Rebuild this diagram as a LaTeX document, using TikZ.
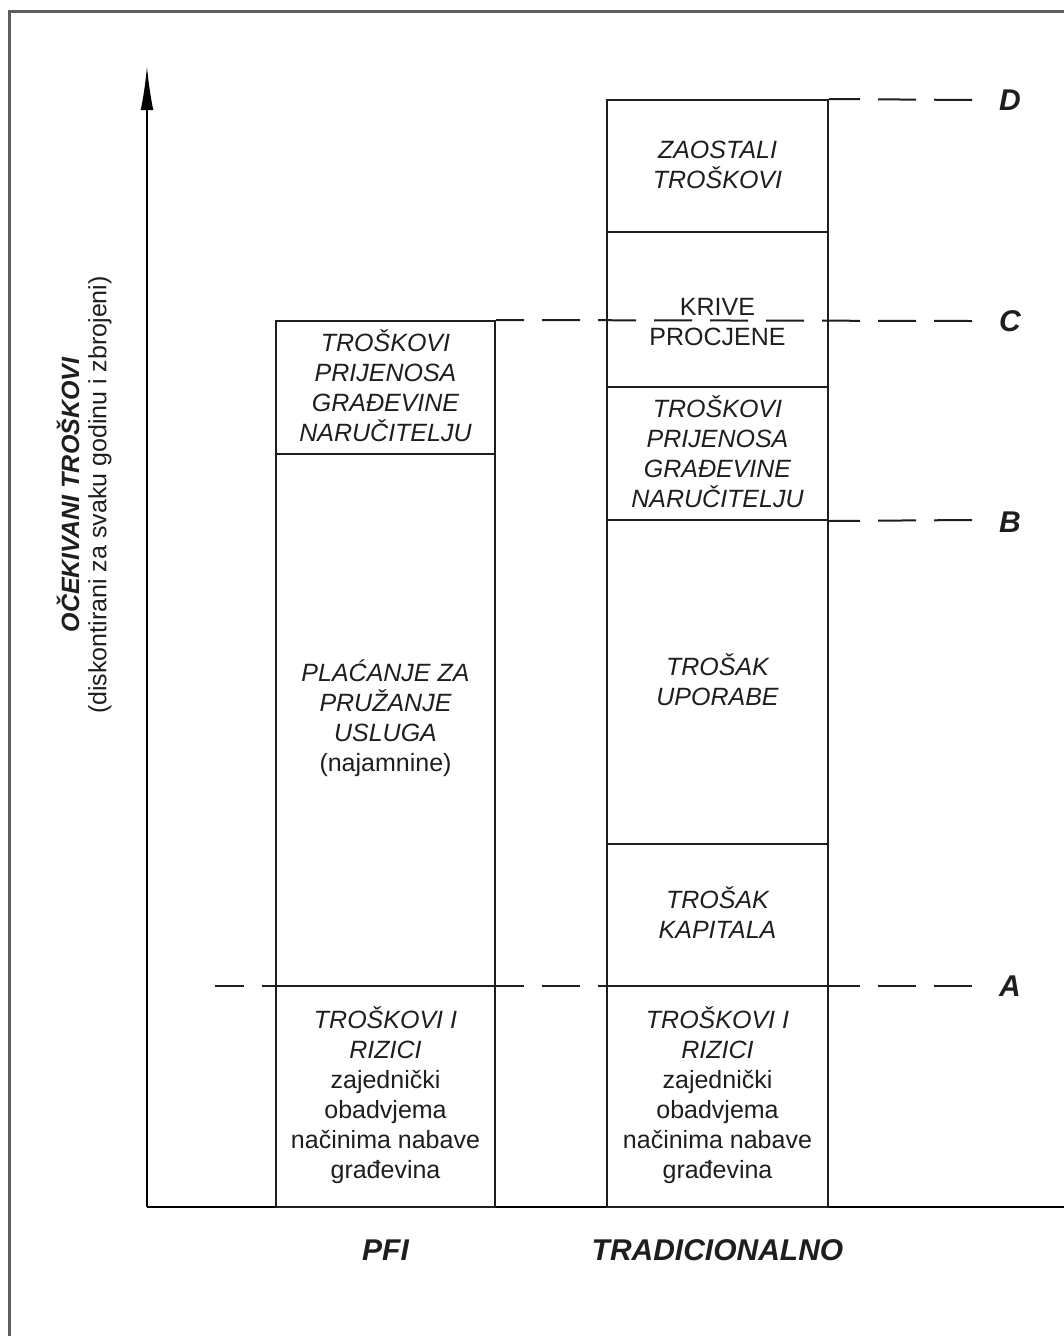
\documentclass[tikz,border=0pt]{standalone}
\usepackage{fontspec}
\setmainfont{Liberation Sans}
\usetikzlibrary{arrows.meta}
\definecolor{ink}{HTML}{1E1E1E}
\definecolor{framec}{HTML}{5E5E5E}
\tikzset{
  bar/.style={draw=ink, line width=1.5pt, inner sep=0pt},
  txt/.style={align=center, inner sep=0pt, text=ink, font=\fontsize{18.75}{22.5}\selectfont},
  lbl/.style={inner sep=0pt, text=ink, font=\fontsize{22.5}{27}\selectfont\bfseries\itshape},
  guide/.style={draw=ink, line width=1.5pt, dash pattern=on 28.5pt off 13.5pt},
  axis/.style={draw=black, line width=1.5pt}
}
\begin{document}
\begin{tikzpicture}[x=0.75pt,y=-0.75pt]
\useasboundingbox (0,0) rectangle (1064,1336);
% frame
\draw[framec, line width=2.4pt] (9.5,1340) -- (9.5,11.5) -- (1070,11.5);

% axes
\coordinate (origin) at (147,1207);
\coordinate (ytop) at (147,66);
\coordinate (xend) at (1070,1207);
\draw[axis, -{Latex[length=33pt,width=9.5pt]}] (origin) -- (ytop);
\draw[axis] (origin) -- (xend);

% PFI column
\node[bar, minimum width=164.25pt, minimum height=99.75pt] (p1) at (385.5,387.5) {};
\node[bar, minimum width=164.25pt, minimum height=399pt] (p2) at (385.5,720) {};
\node[bar, minimum width=164.25pt, minimum height=165.75pt] (p3) at (385.5,1096.5) {};

% Traditional column
\node[bar, minimum width=165.75pt, minimum height=99pt] (t1) at (717.5,166) {};
\node[bar, minimum width=165.75pt, minimum height=116.25pt] (t2) at (717.5,309.5) {};
\node[bar, minimum width=165.75pt, minimum height=99.75pt] (t3) at (717.5,453.5) {};
\node[bar, minimum width=165.75pt, minimum height=243pt] (t4) at (717.5,682) {};
\node[bar, minimum width=165.75pt, minimum height=106.5pt] (t5) at (717.5,915) {};
\node[bar, minimum width=165.75pt, minimum height=165.75pt] (t6) at (717.5,1096.5) {};

% guide line ends
\coordinate (dEnd) at (972,100);
\coordinate (cEnd) at (972,321);
\coordinate (bEnd) at (972,520);
\coordinate (aEnd) at (972,986);
\coordinate (aStart) at (215,986);
\draw[guide] (dEnd) -- (t1.north east);
\draw[guide] (cEnd) -- (p1.north east);
\draw[guide] (bEnd) -- (t3.south east);
\draw[guide] (aEnd) -- (aStart);

% level labels
\node[lbl] (D) at (1010,100) {D};
\node[lbl] (C) at (1010,321) {C};
\node[lbl] (B) at (1010,522) {B};
\node[lbl] (A) at (1010,986) {A};

% PFI texts
\node[txt] (p1t) at (385.5,386) {\itshape TROŠKOVI\\\itshape PRIJENOSA\\\itshape GRAĐEVINE\\\itshape NARUČITELJU};
\node[txt] (p2t) at (385.5,718) {\itshape PLAĆANJE ZA\\\itshape PRUŽANJE\\\itshape USLUGA\\(najamnine)};
\node[txt] (p3t) at (385.5,1095) {\itshape TROŠKOVI I\\\itshape RIZICI\\zajednički\\obadvjema\\načinima nabave\\građevina};

% Traditional texts
\node[txt] (t1t) at (717.5,165) {\itshape ZAOSTALI\\\itshape TROŠKOVI};
\node[txt] (t2t) at (717.5,322) {KRIVE\\PROCJENE};
\node[txt] (t3t) at (717.5,452) {\itshape TROŠKOVI\\\itshape PRIJENOSA\\\itshape GRAĐEVINE\\\itshape NARUČITELJU};
\node[txt] (t4t) at (717.5,680) {\itshape TROŠAK\\\itshape UPORABE};
\node[txt] (t5t) at (717.5,913) {\itshape TROŠAK\\\itshape KAPITALA};
\node[txt] (t6t) at (717.5,1095) {\itshape TROŠKOVI I\\\itshape RIZICI\\zajednički\\obadvjema\\načinima nabave\\građevina};

% column labels
\node[lbl] (pfi) at (385.5,1250) {PFI};
\node[lbl] (trad) at (717.5,1250) {TRADICIONALNO};

% axis label
\node[txt, rotate=90, font=\fontsize{18.75}{22.5}\selectfont\bfseries\itshape] (ylab1) at (68,495) {OČEKIVANI TROŠKOVI};
\node[txt, rotate=90] (ylab2) at (100,495) {(diskontirani za svaku godinu i zbrojeni)};
\end{tikzpicture}
\end{document}
